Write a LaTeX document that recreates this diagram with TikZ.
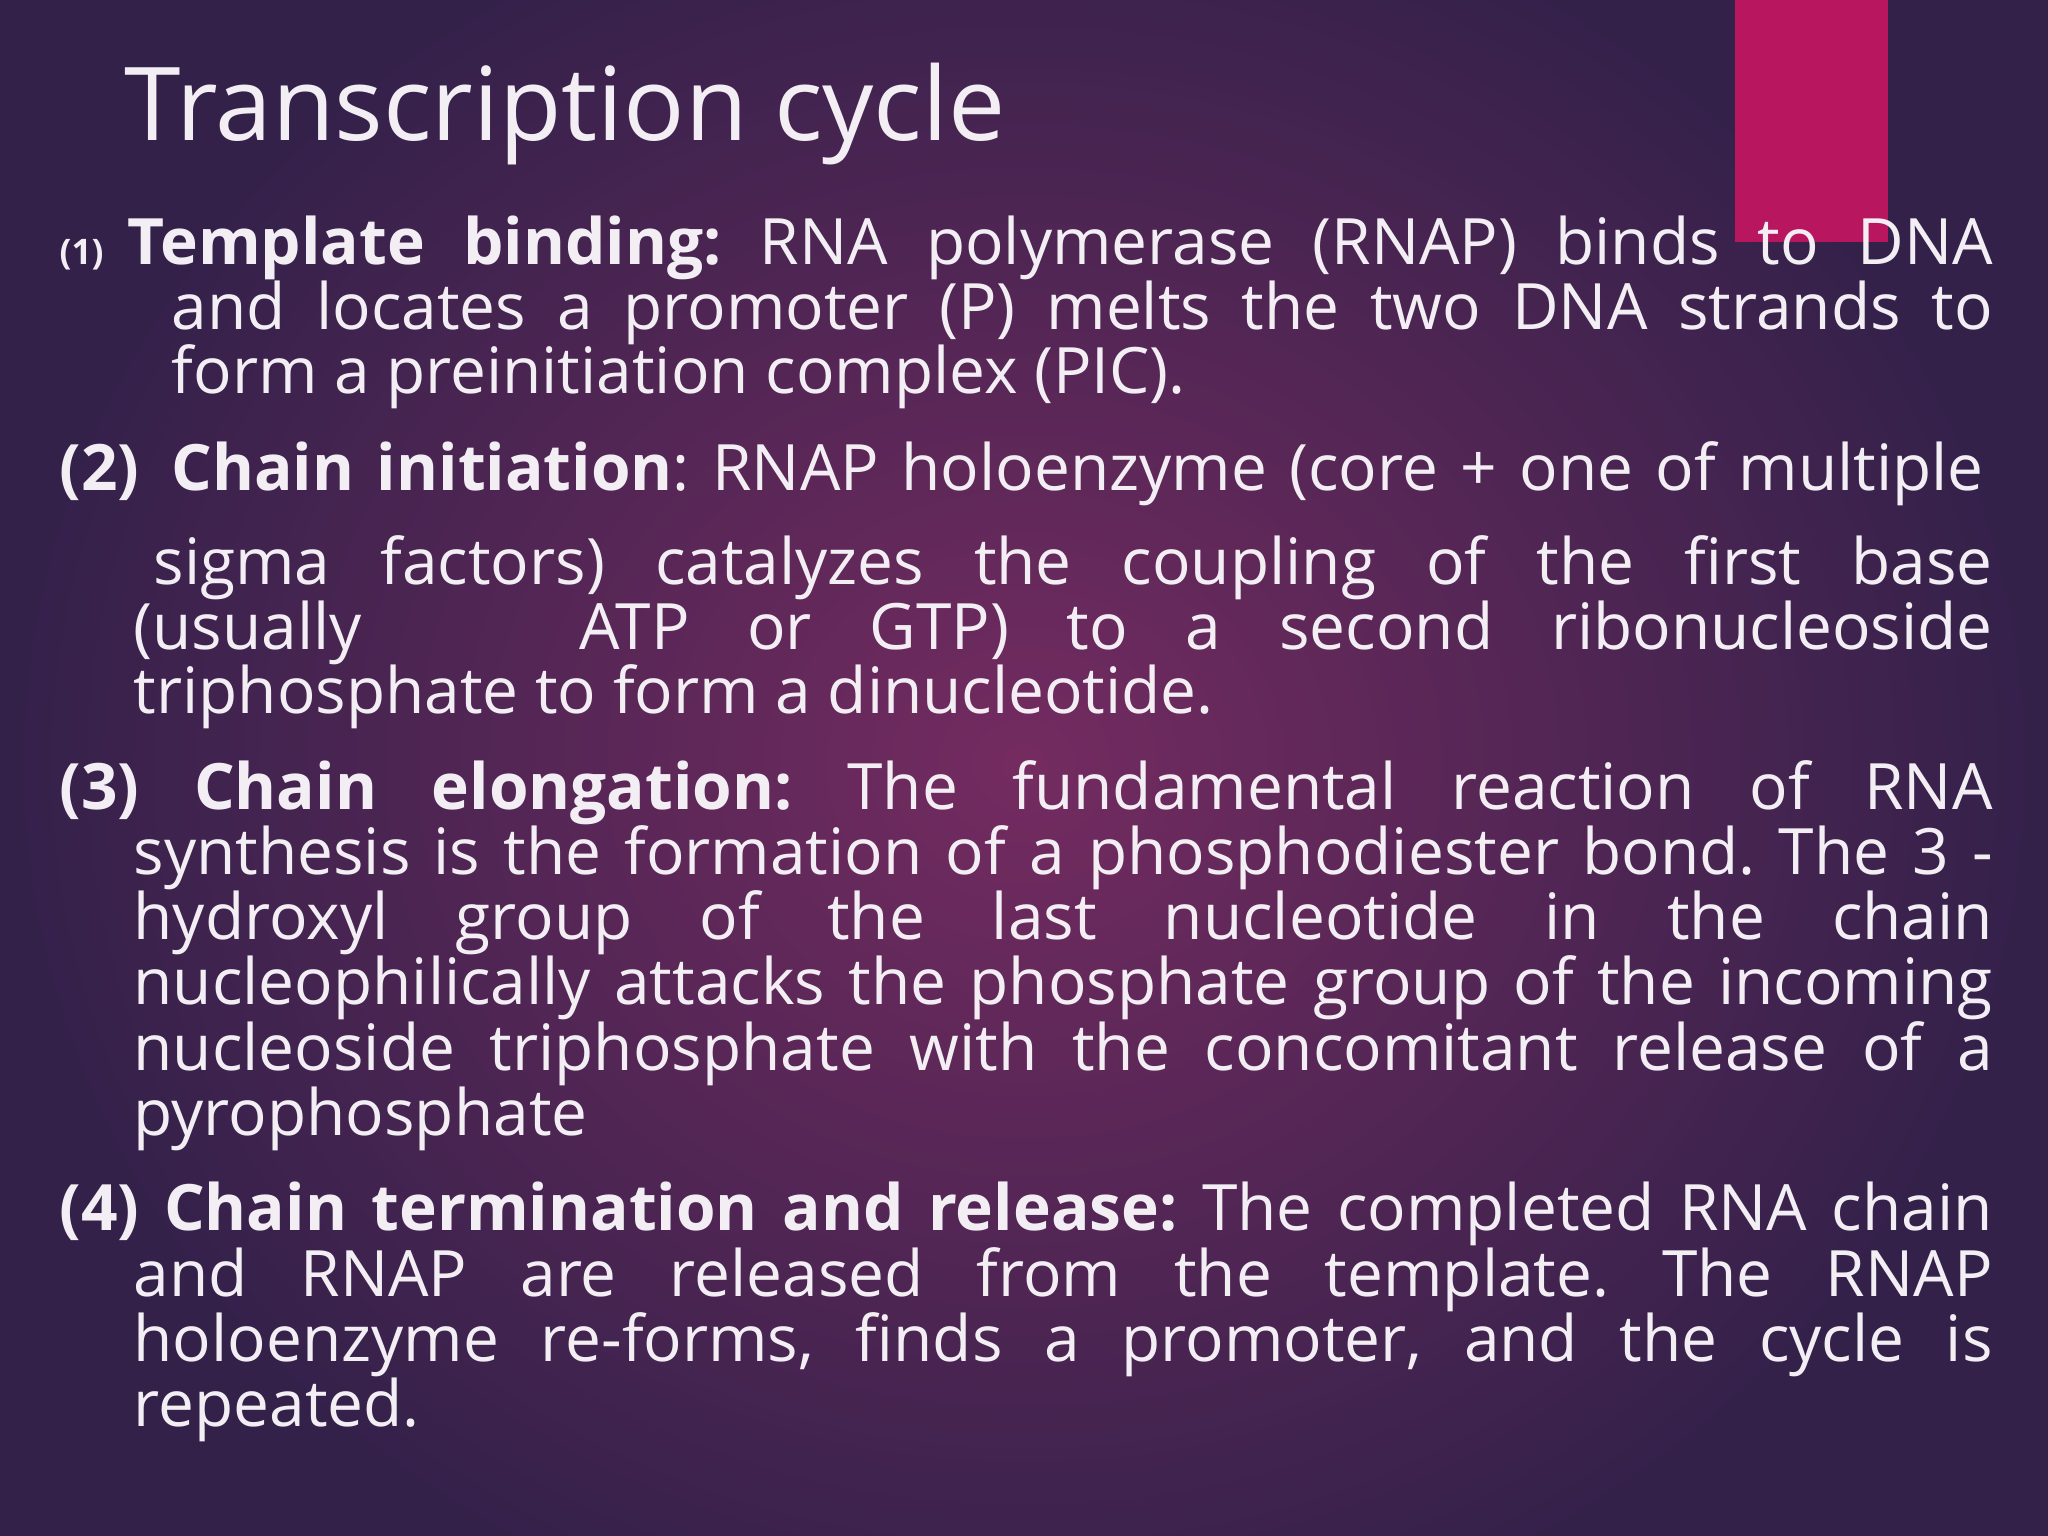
\documentclass[tikz,border=0pt]{standalone}
\usepackage{fontspec}
\setmainfont{Open Sans}
\frenchspacing
\definecolor{bgd}{HTML}{33214A}
\definecolor{bgm}{HTML}{742B60}
\definecolor{mag}{HTML}{B8175F}
\definecolor{txt}{HTML}{F2EEF4}
\tikzset{ln/.style={anchor=base west,inner sep=0pt,text=txt,font=\fontsize{18.2pt}{20pt}\selectfont}}
\newcommand{\jl}[5]{\node[ln] (#1) at (#2,#3) {\makebox[#4cm][s]{#5}};}
\newcommand{\nl}[4]{\node[ln] (#1) at (#2,#3) {#4};}
\begin{document}
\begin{tikzpicture}[x=1cm,y=-1cm]
\useasboundingbox (0,0) rectangle (20.48,15.36);
\fill[bgd] (0,0) rectangle (20.48,15.36);
\shade[inner color=bgm,outer color=bgd] (0,-1.5) rectangle (20.48,16.8);
\fill[mag] (17.35,0) rectangle (18.88,2.42);
\node[anchor=base west,inner sep=0pt,text=txt,font=\fontsize{29pt}{34pt}\selectfont] (title) at (1.24,1.41) {Transcription cycle};
\node[anchor=base west,inner sep=0pt,text=txt,font=\fontsize{10pt}{11pt}\selectfont\bfseries] (n1) at (0.59,2.65) {(1)};
\jl{a1}{1.27}{2.65}{18.65}{\textbf{Template binding:} RNA polymerase (RNAP) binds to DNA}
\jl{a2}{1.71}{3.30}{18.21}{and locates a promoter (P) melts the two DNA strands to}
\nl{a3}{1.71}{3.94}{form a preinitiation complex (PIC).}
\jl{b1}{0.59}{4.91}{19.24}{\textbf{(2)}\hspace{0.5em}\textbf{Chain initiation}: RNAP holoenzyme (core + one of multiple}
\jl{b2}{1.53}{5.85}{18.39}{sigma factors) catalyzes the coupling of the first base}
\jl{b3}{1.33}{6.49}{18.59}{(usually\hspace{2.5em} ATP or GTP) to a second ribonucleoside}
\nl{b4}{1.33}{7.14}{triphosphate to form a dinucleotide.}
\jl{c1}{0.59}{8.10}{19.33}{\textbf{(3)} \textbf{Chain elongation:} The fundamental reaction of RNA}
\jl{c2}{1.33}{8.74}{18.59}{synthesis is the formation of a phosphodiester bond. The 3 -}
\jl{c3}{1.33}{9.39}{18.59}{hydroxyl group of the last nucleotide in the chain}
\jl{c4}{1.33}{10.04}{18.59}{nucleophilically attacks the phosphate group of the incoming}
\jl{c5}{1.33}{10.70}{18.59}{nucleoside triphosphate with the concomitant release of a}
\nl{c6}{1.33}{11.35}{pyrophosphate}
\jl{d1}{0.59}{12.30}{19.33}{\textbf{(4) Chain termination and release:} The completed RNA chain}
\jl{d2}{1.33}{12.96}{18.59}{and RNAP are released from the template. The RNAP}
\jl{d3}{1.33}{13.61}{18.59}{holoenzyme re-forms, finds a promoter, and the cycle is}
\nl{d4}{1.33}{14.26}{repeated.}
\end{tikzpicture}
\end{document}
